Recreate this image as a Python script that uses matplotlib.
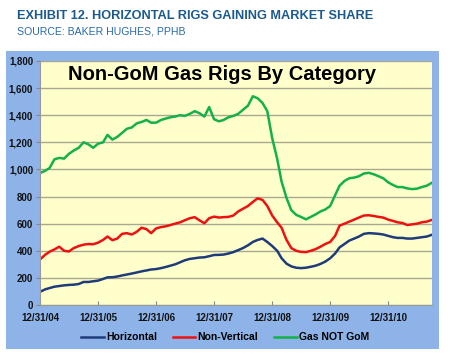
import matplotlib
matplotlib.use("Agg")
import matplotlib.pyplot as plt
import pandas as pd

plt.rcParams['font.family'] = ['Liberation Sans', 'DejaVu Sans']

dates = pd.date_range('2005-01-01', periods=82, freq='MS')

gas_not_gom = [974, 990, 1010, 1075, 1085, 1080, 1115, 1140, 1160, 1200, 1185, 1160,
               1190, 1200, 1255, 1220, 1240, 1270, 1300, 1310, 1340, 1350, 1365, 1345,
               1345, 1365, 1375, 1385, 1390, 1400, 1395, 1410, 1430, 1415, 1390, 1460,
               1370, 1355, 1365, 1385, 1395, 1410, 1440, 1470, 1540, 1525, 1490, 1430,
               1230, 1080, 910, 790, 700, 665, 650, 632, 650, 668, 690, 705,
               730, 810, 880, 915, 935, 940, 950, 970, 975, 965, 950, 935,
               905, 885, 870, 870, 860, 855, 858, 870, 880, 900]

non_vertical = [337, 370, 393, 410, 430, 400, 395, 420, 435, 445, 450, 448,
                460, 480, 505, 478, 490, 525, 530, 520, 540, 570, 560, 530,
                565, 575, 580, 590, 600, 610, 625, 640, 648, 625, 603, 640,
                652, 645, 648, 650, 660, 690, 710, 730, 760, 787, 775, 730,
                660, 610, 570, 480, 420, 400, 392, 390, 400, 412, 430, 450,
                465, 510, 585, 600, 615, 630, 645, 660, 662, 657, 650, 645,
                630, 620, 610, 605, 590, 595, 600, 610, 615, 627]

horizontal = [98, 115, 125, 135, 140, 145, 148, 150, 155, 170, 170, 175,
              180, 192, 204, 205, 210, 218, 225, 232, 240, 248, 255, 262,
              265, 272, 280, 290, 300, 315, 330, 340, 345, 350, 352, 360,
              369, 370, 372, 380, 390, 405, 420, 440, 465, 480, 490, 465,
              435, 400, 345, 305, 285, 275, 272, 275, 282, 290, 303, 320,
              345, 380, 425, 450, 475, 490, 505, 525, 530, 528, 525, 520,
              510, 500, 495, 495, 490, 490, 495, 500, 505, 517]

tick_dates = pd.to_datetime(['2004-12-31', '2005-12-31', '2006-12-31', '2007-12-31',
                             '2008-12-31', '2009-12-31', '2010-12-31'])
tick_labels = ['12/31/04', '12/31/05', '12/31/06', '12/31/07', '12/31/08', '12/31/09', '12/31/10']
y_ticks = list(range(0, 1801, 200))

fig = plt.figure(figsize=(4.5, 3.58), dpi=100)
fig.patch.set_facecolor('white')

bg = fig.add_axes([6/450, 9/358, 433/450, 298/358])
bg.set_facecolor('#8DB3E8')
bg.set_xticks([]); bg.set_yticks([])
for s in bg.spines.values():
    s.set_visible(False)
bg.set_zorder(0)

fig.text(17/450, 1 - 16/358, 'EXHIBIT 12. HORIZONTAL RIGS GAINING MARKET SHARE',
         fontsize=9.2, fontweight='bold', color='#1B5A8C', va='center', ha='left')
fig.text(17/450, 1 - 32/358, 'SOURCE: BAKER HUGHES, PPHB',
         fontsize=7.6, color='#2A6AA8', va='center', ha='left')

ax = fig.add_axes([40/450, 53/358, 392/450, 244/358])
ax.set_zorder(2)
ax.set_facecolor('#FFFFCC')

ax.plot(dates, horizontal, color='#1F3C7A', lw=1.8, label='Horizontal')
ax.plot(dates, non_vertical, color='#EE1111', lw=1.8, label='Non-Vertical')
ax.plot(dates, gas_not_gom, color='#14B04A', lw=1.8, label='Gas NOT GoM')

ax.set_ylim(0, 1800)
ax.set_xlim(pd.Timestamp('2004-12-31'), pd.Timestamp('2011-10-04'))
ax.set_yticks(y_ticks)
ax.set_yticklabels([f'{v:,}' for v in y_ticks])
ax.set_xticks(tick_dates)
ax.set_xticklabels(tick_labels)
ax.grid(axis='y', color='#A8A890', lw=1)
ax.set_axisbelow(True)

for lab in ax.get_xticklabels() + ax.get_yticklabels():
    lab.set_fontweight('bold')
    lab.set_fontsize(7)
    lab.set_color('#111111')
ax.tick_params(axis='x', direction='in', length=3, color='#888888', pad=6)
ax.tick_params(axis='y', direction='out', length=3, color='#888888', pad=2)
for s in ['top', 'right']:
    ax.spines[s].set_visible(False)
for s in ['left', 'bottom']:
    ax.spines[s].set_color('#999999')

ax.text((222 - 40) / 392, (305 - 75) / 244, 'Non-GoM Gas Rigs By Category',
        transform=ax.transAxes, fontsize=14.5, fontweight='bold',
        ha='center', va='center', color='black')

leg = fig.legend(loc='center', bbox_to_anchor=(225/450, 1 - 337.5/358), ncol=3,
                 frameon=False, handlelength=2.2, handletextpad=0.2,
                 columnspacing=1.5, prop={'weight': 'bold', 'size': 7.5})
leg.set_zorder(3)

fig.savefig('out.png', dpi=100, facecolor=fig.get_facecolor())
